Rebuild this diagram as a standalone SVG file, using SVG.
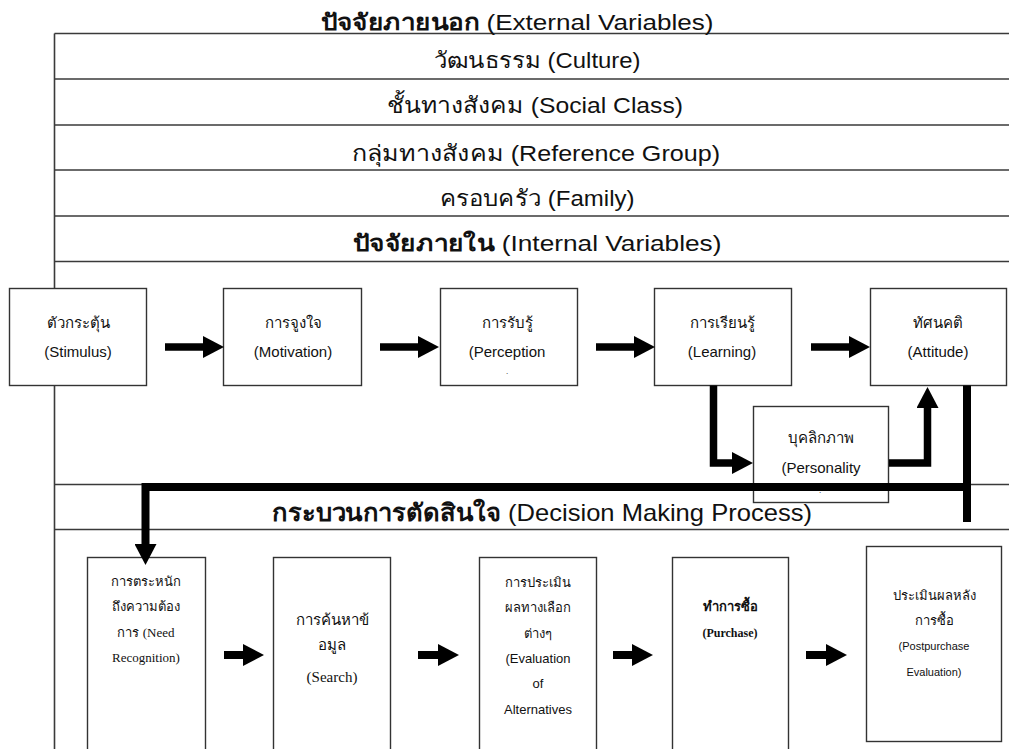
<svg xmlns="http://www.w3.org/2000/svg" width="1009" height="749" viewBox="0 0 1009 749">
<style>
  .frame { stroke: #3a3a3a; stroke-width: 1.6; fill: none; }
  .box { fill: #fff; stroke: #333; stroke-width: 1.4; }
  .hdr { font-family: "Liberation Sans", "Noto Sans", "DejaVu Sans", sans-serif; font-size: 22px; fill: #111; text-anchor: middle; }
  .th { font-weight: bold; }
  .n1 { font-family: "Liberation Sans", "Noto Sans", "DejaVu Sans", sans-serif; font-size: 15px; fill: #111; text-anchor: middle; }
  .ns { font-family: "Liberation Serif", "Noto Sans", "DejaVu Serif", serif; font-size: 13px; fill: #111; text-anchor: middle; }
  .nb { font-family: "Liberation Serif", "Noto Sans", "DejaVu Serif", serif; font-size: 15px; fill: #111; text-anchor: middle; }
  .nn { font-family: "Liberation Sans", "Noto Sans", "DejaVu Sans", sans-serif; font-size: 13px; fill: #111; text-anchor: middle; }
  .nt { font-family: "Liberation Sans", "Noto Sans", "DejaVu Sans", sans-serif; font-size: 11px; fill: #111; text-anchor: middle; }
  .conn { fill: none; stroke: #000; stroke-width: 7.5; stroke-linejoin: miter; stroke-linecap: butt; }
</style>
<defs>
  <marker id="head" markerUnits="userSpaceOnUse" markerWidth="21" markerHeight="22" refX="0" refY="11" orient="auto">
    <path d="M0,0 L21,11 L0,22 z" fill="#000"/>
  </marker>
</defs>
<rect x="0" y="0" width="1009" height="749" fill="#fff"/>

<g id="frame">
  <line class="frame" x1="54.5" y1="33.5" x2="1009" y2="33.5"/>
  <line class="frame" x1="54.5" y1="79" x2="1009" y2="79"/>
  <line class="frame" x1="54.5" y1="125" x2="1009" y2="125"/>
  <line class="frame" x1="54.5" y1="170" x2="1009" y2="170"/>
  <line class="frame" x1="54.5" y1="216" x2="1009" y2="216"/>
  <line class="frame" x1="54.5" y1="261.5" x2="1009" y2="261.5"/>
  <line class="frame" x1="54.5" y1="484.5" x2="1009" y2="484.5"/>
  <line class="frame" x1="54.5" y1="529.5" x2="1009" y2="529.5"/>
  <line class="frame" x1="54.5" y1="33.5" x2="54.5" y2="749"/>
</g>

<g id="headers">
  <text class="hdr" x="517" y="30" textLength="393" lengthAdjust="spacingAndGlyphs"><tspan class="th">ปัจจัยภายนอก</tspan> (External Variables)</text>
  <text class="hdr" x="537" y="68" textLength="207" lengthAdjust="spacingAndGlyphs">วัฒนธรรม (Culture)</text>
  <text class="hdr" x="535" y="113" textLength="296" lengthAdjust="spacingAndGlyphs">ชั้นทางสังคม (Social Class)</text>
  <text class="hdr" x="536" y="161" textLength="368" lengthAdjust="spacingAndGlyphs">กลุ่มทางสังคม (Reference Group)</text>
  <text class="hdr" x="537" y="206" textLength="195" lengthAdjust="spacingAndGlyphs">ครอบครัว (Family)</text>
  <text class="hdr" x="537" y="251" textLength="369" lengthAdjust="spacingAndGlyphs"><tspan class="th">ปัจจัยภายใน</tspan> (Internal Variables)</text>
  <text class="hdr" x="542" y="521" style="font-size:24px" textLength="540" lengthAdjust="spacingAndGlyphs"><tspan class="th">กระบวนการตัดสินใจ</tspan> (Decision Making Process)</text>
</g>

<g id="stimulus">
  <rect class="box" x="9.5" y="288.5" width="137" height="97"/>
  <text class="n1" x="78" y="328">ตัวกระตุ้น</text>
  <text class="n1" x="78" y="357">(Stimulus)</text>
</g>
<g id="motivation">
  <rect class="box" x="223.5" y="288.5" width="138" height="97"/>
  <text class="n1" x="293" y="328">การจูงใจ</text>
  <text class="n1" x="293" y="357">(Motivation)</text>
</g>
<g id="perception">
  <rect class="box" x="440.5" y="288.5" width="137" height="97"/>
  <text class="n1" x="507" y="328">การรับรู้</text>
  <text class="n1" x="507" y="357">(Perception</text>
  <text class="n1" x="507" y="374" style="font-size:8px">.</text>
</g>
<g id="learning">
  <rect class="box" x="654.5" y="288.5" width="137" height="97"/>
  <text class="n1" x="722" y="328">การเรียนรู้</text>
  <text class="n1" x="722" y="357">(Learning)</text>
</g>
<g id="attitude">
  <rect class="box" x="870.5" y="288.5" width="136" height="97"/>
  <text class="n1" x="938" y="328">ทัศนคติ</text>
  <text class="n1" x="938" y="357">(Attitude)</text>
</g>
<g id="personality">
  <rect class="box" x="753.5" y="406.5" width="135" height="96"/>
  <text class="n1" x="821" y="443">บุคลิกภาพ</text>
  <text class="n1" x="821" y="473">(Personality</text>
  <text class="n1" x="820" y="493" style="font-size:8px">.</text>
</g>

<g id="need">
  <rect class="box" x="87.5" y="557.5" width="118" height="200"/>
  <text class="ns" x="146" y="586">การตระหนัก</text>
  <text class="ns" x="146" y="611">ถึงความต้อง</text>
  <text class="ns" x="146" y="637">การ (Need</text>
  <text class="ns" x="146" y="662">Recognition)</text>
</g>
<g id="search">
  <rect class="box" x="273.5" y="557.5" width="117" height="200"/>
  <text class="nb" x="332" y="625">การค้นหาข้</text>
  <text class="nb" x="332" y="650">อมูล</text>
  <text class="nb" x="332" y="682">(Search)</text>
</g>
<g id="evaluation">
  <rect class="box" x="479.5" y="557.5" width="117" height="200"/>
  <text class="nn" x="538" y="587">การประเมิน</text>
  <text class="nn" x="538" y="612">ผลทางเลือก</text>
  <text class="nn" x="538" y="638">ต่างๆ</text>
  <text class="nn" x="538" y="663">(Evaluation</text>
  <text class="nn" x="538" y="688">of</text>
  <text class="nn" x="538" y="714">Alternatives</text>
</g>
<g id="purchase">
  <rect class="box" x="672.5" y="557.5" width="116" height="200"/>
  <text class="ns" x="730" y="611" style="font-weight:bold">ทำการซื้อ</text>
  <text class="ns" x="730" y="637" style="font-weight:bold;font-size:12px">(Purchase)</text>
</g>
<g id="postpurchase">
  <rect class="box" x="866.5" y="546.5" width="135" height="195"/>
  <text class="nn" x="934" y="600">ประเมินผลหลัง</text>
  <text class="nn" x="934" y="625">การซื้อ</text>
  <text class="nt" x="934" y="650">(Postpurchase</text>
  <text class="nt" x="934" y="676">Evaluation)</text>
</g>

<g id="connectors">
  <path class="conn" d="M165,347 H203" marker-end="url(#head)"/>
  <path class="conn" d="M380,347 H418" marker-end="url(#head)"/>
  <path class="conn" d="M596,347 H634" marker-end="url(#head)"/>
  <path class="conn" d="M811,347 H849" marker-end="url(#head)"/>
  <path class="conn" d="M713.5,385.5 V463 H732" marker-end="url(#head)"/>
  <path class="conn" d="M889,463 H927.5 V408" marker-end="url(#head)"/>
  <path class="conn" d="M967,385.5 V522" style="stroke-width:8"/>
  <path class="conn" d="M971,487 H145.5 V544" style="stroke-width:8" marker-end="url(#head)"/>
  <path class="conn" d="M224,655 H243" style="stroke-width:8" marker-end="url(#head)"/>
  <path class="conn" d="M418,655 H438" style="stroke-width:8" marker-end="url(#head)"/>
  <path class="conn" d="M613,655 H632" style="stroke-width:8" marker-end="url(#head)"/>
  <path class="conn" d="M806,655 H826" style="stroke-width:8" marker-end="url(#head)"/>
</g>
</svg>
